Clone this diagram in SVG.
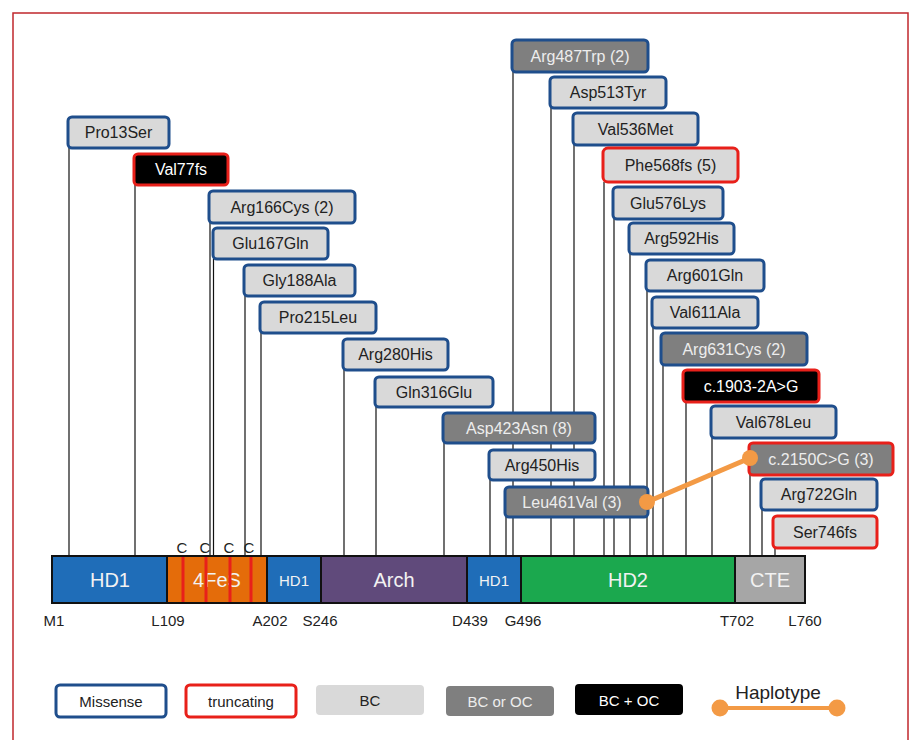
<svg xmlns="http://www.w3.org/2000/svg" width="914" height="740" viewBox="0 0 914 740">
<style>
text{font-family:"Liberation Sans","Open Sans",Arial,sans-serif}
.b{stroke-width:3}
.mis{stroke:#1F4E8C}
.tr{stroke:#E8201A}
.lt{fill:#D9D9D9}
.dk{fill:#7F7F7F}
.bk{fill:#000}
.t{font-size:16px;text-anchor:middle}
.td{fill:#222}
.tw{fill:#EDEDED}
.conn line{stroke:#111;stroke-width:1.2}
.seg{stroke:#111;stroke-width:2}
.st{font-size:20px;fill:#F2F2F2;text-anchor:middle}
.pos{font-size:15px;fill:#222;text-anchor:middle}
.c{font-size:15px;fill:#222;text-anchor:middle}
.lg{font-size:15px;text-anchor:middle}
</style>
<rect width="914" height="740" fill="#fff"/>
<rect x="13" y="13" width="895" height="760" fill="none" stroke="#C0272D" stroke-width="1.5"/>

<g id="connectors" class="conn">
<line x1="69" y1="148" x2="69" y2="556"/>
<line x1="135" y1="185" x2="135" y2="556"/>
<line x1="210" y1="223" x2="210" y2="556"/>
<line x1="213.5" y1="259" x2="213.5" y2="556"/>
<line x1="245" y1="296" x2="245" y2="556"/>
<line x1="261" y1="333" x2="261" y2="556"/>
<line x1="344" y1="370" x2="344" y2="556"/>
<line x1="376" y1="407" x2="376" y2="556"/>
<line x1="444" y1="443" x2="444" y2="556"/>
<line x1="490" y1="480" x2="490" y2="556"/>
<line x1="506" y1="517" x2="506" y2="556"/>
<line x1="513" y1="72" x2="513" y2="556"/>
<line x1="551" y1="108" x2="551" y2="556"/>
<line x1="574" y1="145" x2="574" y2="556"/>
<line x1="604" y1="182" x2="604" y2="556"/>
<line x1="614" y1="219" x2="614" y2="556"/>
<line x1="630" y1="254" x2="630" y2="556"/>
<line x1="647" y1="291" x2="647" y2="556"/>
<line x1="653" y1="328" x2="653" y2="556"/>
<line x1="663" y1="365" x2="663" y2="556"/>
<line x1="686" y1="402" x2="686" y2="556"/>
<line x1="712" y1="438" x2="712" y2="556"/>
<line x1="750" y1="475" x2="750" y2="556"/>
<line x1="762" y1="510" x2="762" y2="556"/>
<line x1="775" y1="548" x2="775" y2="556"/>
</g>

<g id="n-Pro13Ser"><rect class="b mis lt" x="68" y="117" width="101" height="31" rx="4"/><text class="t td" x="118.5" y="138">Pro13Ser</text></g>
<g id="n-Val77fs"><rect class="b tr bk" x="134" y="154" width="94" height="31" rx="4"/><text class="t" fill="#fff" x="181" y="175">Val77fs</text></g>
<g id="n-Arg166Cys"><rect class="b mis lt" x="209" y="191" width="146" height="32" rx="4"/><text class="t td" x="282" y="213">Arg166Cys (2)</text></g>
<g id="n-Glu167Gln"><rect class="b mis lt" x="213" y="228" width="115" height="31" rx="4"/><text class="t td" x="270.5" y="249">Glu167Gln</text></g>
<g id="n-Gly188Ala"><rect class="b mis lt" x="244" y="265" width="111" height="31" rx="4"/><text class="t td" x="299.5" y="286">Gly188Ala</text></g>
<g id="n-Pro215Leu"><rect class="b mis lt" x="260" y="302" width="116" height="31" rx="4"/><text class="t td" x="318" y="323">Pro215Leu</text></g>
<g id="n-Arg280His"><rect class="b mis lt" x="343" y="339" width="105" height="31" rx="4"/><text class="t td" x="395.5" y="360">Arg280His</text></g>
<g id="n-Gln316Glu"><rect class="b mis lt" x="375" y="377" width="118" height="30" rx="4"/><text class="t td" x="434" y="398">Gln316Glu</text></g>
<g id="n-Asp423Asn"><rect class="b mis dk" x="443" y="413" width="152" height="30" rx="4"/><text class="t tw" x="519" y="434">Asp423Asn (8)</text></g>
<g id="n-Arg450His"><rect class="b mis lt" x="489" y="450" width="106" height="30" rx="4"/><text class="t td" x="542" y="471">Arg450His</text></g>
<g id="n-Leu461Val"><rect class="b mis dk" x="505" y="487" width="143" height="30" rx="4"/><text class="t tw" x="572" y="508">Leu461Val (3)</text></g>
<g id="n-Arg487Trp"><rect class="b mis dk" x="512" y="40" width="136" height="32" rx="4"/><text class="t tw" x="580" y="62">Arg487Trp (2)</text></g>
<g id="n-Asp513Tyr"><rect class="b mis lt" x="550" y="77" width="116" height="31" rx="4"/><text class="t td" x="608" y="98">Asp513Tyr</text></g>
<g id="n-Val536Met"><rect class="b mis lt" x="573" y="113" width="125" height="32" rx="4"/><text class="t td" x="635.5" y="135">Val536Met</text></g>
<g id="n-Phe568fs"><rect class="b tr lt" x="603" y="148" width="135" height="34" rx="5"/><text class="t td" x="670.5" y="171">Phe568fs (5)</text></g>
<g id="n-Glu576Lys"><rect class="b mis lt" x="613" y="187" width="110" height="32" rx="4"/><text class="t td" x="668" y="209">Glu576Lys</text></g>
<g id="n-Arg592His"><rect class="b mis lt" x="629" y="223" width="105" height="31" rx="4"/><text class="t td" x="681.5" y="244">Arg592His</text></g>
<g id="n-Arg601Gln"><rect class="b mis lt" x="646" y="260" width="118" height="31" rx="4"/><text class="t td" x="705" y="281">Arg601Gln</text></g>
<g id="n-Val611Ala"><rect class="b mis lt" x="652" y="297" width="106" height="31" rx="4"/><text class="t td" x="705" y="318">Val611Ala</text></g>
<g id="n-Arg631Cys"><rect class="b mis dk" x="661" y="333" width="146" height="32" rx="4"/><text class="t tw" x="734" y="355">Arg631Cys (2)</text></g>
<g id="n-c1903"><rect class="b tr bk" x="683" y="370" width="136" height="32" rx="4"/><text class="t" fill="#fff" x="751" y="392">c.1903-2A&gt;G</text></g>
<g id="n-Val678Leu"><rect class="b mis lt" x="711" y="406" width="125" height="32" rx="4"/><text class="t td" x="773.5" y="428">Val678Leu</text></g>
<g id="n-c2150"><rect class="b tr dk" x="749" y="443" width="144" height="32" rx="4"/><text class="t tw" x="821" y="465">c.2150C&gt;G (3)</text></g>
<g id="n-Arg722Gln"><rect class="b mis lt" x="761" y="479" width="116" height="31" rx="4"/><text class="t td" x="819" y="500">Arg722Gln</text></g>
<g id="n-Ser746fs"><rect class="b tr lt" x="773" y="516" width="104" height="32" rx="4"/><text class="t td" x="825" y="538">Ser746fs</text></g>

<g id="haplotype-link">
<line x1="647" y1="502" x2="750" y2="458" stroke="#F39A45" stroke-width="5"/>
<circle cx="647" cy="502" r="8" fill="#F39A45"/>
<circle cx="750" cy="458" r="8" fill="#F39A45"/>
</g>

<g id="protein-bar">
<rect class="seg" x="52" y="556" width="115" height="47" fill="#1F6DB8"/>
<rect class="seg" x="167" y="556" width="100" height="47" fill="#E46C0A"/>
<rect class="seg" x="267" y="556" width="54" height="47" fill="#1F6DB8"/>
<rect class="seg" x="321" y="556" width="146" height="47" fill="#604A7B"/>
<rect class="seg" x="467" y="556" width="54" height="47" fill="#1F6DB8"/>
<rect class="seg" x="521" y="556" width="214" height="47" fill="#1BA84E"/>
<rect class="seg" x="735" y="556" width="70" height="47" fill="#A6A6A6"/>
<text class="st" x="110" y="587">HD1</text>
<text class="st" x="217" y="587">4FeS</text>
<text class="st" x="294" y="586" style="font-size:15px">HD1</text>
<text class="st" x="394" y="587">Arch</text>
<text class="st" x="494" y="586" style="font-size:15px">HD1</text>
<text class="st" x="628" y="587">HD2</text>
<text class="st" x="770" y="587">CTE</text>
<g stroke="#E8201A" stroke-width="3">
<line x1="183" y1="557" x2="183" y2="602"/>
<line x1="206" y1="557" x2="206" y2="602"/>
<line x1="230" y1="557" x2="230" y2="602"/>
<line x1="251" y1="557" x2="251" y2="602"/>
</g>
<text class="c" x="182" y="553">C</text>
<text class="c" x="205" y="553">C</text>
<text class="c" x="229" y="553">C</text>
<text class="c" x="249" y="553">C</text>
<text class="pos" x="54" y="626">M1</text>
<text class="pos" x="168" y="626">L109</text>
<text class="pos" x="270" y="626">A202</text>
<text class="pos" x="320" y="626">S246</text>
<text class="pos" x="470" y="626">D439</text>
<text class="pos" x="523" y="626">G496</text>
<text class="pos" x="737" y="626">T702</text>
<text class="pos" x="805" y="626">L760</text>
</g>

<g id="legend">
<rect x="56" y="685" width="110" height="32" rx="4" fill="#fff" stroke="#1F4E8C" stroke-width="3"/>
<text class="lg td" x="111" y="707">Missense</text>
<rect x="186" y="685" width="110" height="32" rx="4" fill="#fff" stroke="#E8201A" stroke-width="3"/>
<text class="lg td" x="241" y="707">truncating</text>
<rect x="316" y="685" width="108" height="30" rx="4" fill="#D9D9D9"/>
<text class="lg td" x="370" y="706">BC</text>
<rect x="446" y="686" width="108" height="30" rx="4" fill="#7F7F7F"/>
<text class="lg tw" x="500" y="707">BC or OC</text>
<rect x="575" y="684" width="108" height="31" rx="4" fill="#000"/>
<text class="lg" fill="#fff" x="629" y="706">BC + OC</text>
<line x1="720" y1="708" x2="837" y2="708" stroke="#F39A45" stroke-width="4"/>
<circle cx="720" cy="708" r="8.5" fill="#F39A45"/>
<circle cx="837" cy="708" r="8.5" fill="#F39A45"/>
<text x="778" y="699" style="font-size:19px;fill:#222;text-anchor:middle">Haplotype</text>
</g>
</svg>
